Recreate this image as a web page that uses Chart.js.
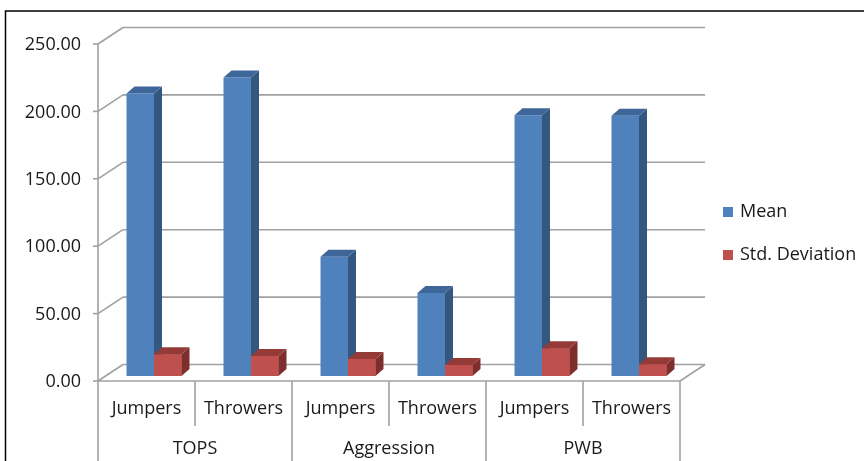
<!DOCTYPE html>
<html>
<head>
<meta charset="utf-8">
<script src="https://cdn.jsdelivr.net/npm/chart.js@4/dist/chart.umd.min.js"></script>
<style>
  html, body { margin: 0; padding: 0; background: #ffffff; }
  #wrap { position: relative; width: 864px; height: 461px; }
</style>
</head>
<body>
<div id="wrap"><canvas id="chart" width="864" height="461"></canvas></div>
<script>
// Scale groups and the athlete types inside each group
const groups = ['TOPS', 'Aggression', 'PWB'];
const athleteTypes = ['Jumpers', 'Throwers'];
const categories = ['Jumpers', 'Throwers', 'Jumpers', 'Throwers', 'Jumpers', 'Throwers'];

// Series values, one per category
const meanValues = [209.5, 221.5, 88.5, 61.5, 193.5, 193.0];
const stdValues  = [16.1, 14.8, 12.6, 8.2, 20.5, 8.7];

// Value axis ticks
const yTicks = [0, 50, 100, 150, 200, 250];

const seriesNames = ['Mean', 'Std. Deviation'];
const seriesColors = ['#4F81BD', '#C0504D'];
const sideColors   = ['#34577F', '#7E2F2D'];
const topColors    = ['#3E6698', '#943B38'];

const FONT = '"Open Sans", "Liberation Sans", sans-serif';
const FONT_SIZE = 18;
const GRID = '#A0A0A0';

// Oblique offsets between the bar plane and the front / back planes
const FRONT = { dx: -7.5, dy: 5 };
const BACK  = { dx: 17.5, dy: -11.5 };
const BAR_DEPTH = { dx: 8, dy: -7 };

function line(ctx, x1, y1, x2, y2) {
  ctx.beginPath();
  ctx.moveTo(x1, y1);
  ctx.lineTo(x2, y2);
  ctx.stroke();
}

function poly(ctx, pts, fill) {
  ctx.beginPath();
  ctx.moveTo(pts[0][0], pts[0][1]);
  for (let i = 1; i < pts.length; i++) ctx.lineTo(pts[i][0], pts[i][1]);
  ctx.closePath();
  ctx.fillStyle = fill;
  ctx.fill();
}

// Side and top faces of one bar, taken from the library's bar element
function drawBarDepth(ctx, bar, dsIndex) {
  const left = bar.x - bar.width / 2;
  const right = bar.x + bar.width / 2;
  const top = bar.y;
  const base = bar.base;
  const dx = BAR_DEPTH.dx, dy = BAR_DEPTH.dy;
  poly(ctx, [[right, top], [right + dx, top + dy], [right + dx, base + dy], [right, base]], sideColors[dsIndex]);
  poly(ctx, [[left, top], [left + dx, top + dy], [right + dx, top + dy], [right, top]], topColors[dsIndex]);
}

const frame3d = {
  id: 'frame3d',
  beforeDatasetsDraw(chart) {
    const ctx = chart.ctx;
    const ys = chart.scales.y;
    const xs = chart.scales.x;
    const area = chart.chartArea;
    const xFront = area.left + FRONT.dx;
    const xFrontRight = area.right + FRONT.dx;
    const xBack = area.left + BACK.dx;
    const xBackRight = area.right + BACK.dx;
    ctx.save();
    ctx.strokeStyle = GRID;
    ctx.lineWidth = 1.6;
    // walls: diagonal on the side wall, horizontal on the back wall
    yTicks.forEach(v => {
      const yb = ys.getPixelForValue(v);
      const yF = yb + FRONT.dy;
      const yB = yb + BACK.dy;
      line(ctx, xFront, yF, xBack, yB);
      line(ctx, xBack, yB, xBackRight, yB);
      line(ctx, xFront - 5, yF, xFront, yF);
    });
    // floor
    const y0 = ys.getPixelForValue(0);
    line(ctx, xFront, y0 + FRONT.dy, xFrontRight, y0 + FRONT.dy);
    line(ctx, xFrontRight, y0 + FRONT.dy, xBackRight, y0 + BACK.dy);
    // front value axis, continuing down as the category table border
    line(ctx, xFront, ys.getPixelForValue(250) + FRONT.dy, xFront, chart.height);
    // category table separators
    const step = (area.right - area.left) / categories.length;
    for (let i = 1; i <= categories.length; i++) {
      const x = area.left + i * step + FRONT.dx;
      const bottom = (i % 2 === 0) ? chart.height : 426;
      line(ctx, x, y0 + FRONT.dy, x, bottom);
    }
    ctx.restore();

    // value axis labels
    ctx.save();
    ctx.fillStyle = '#1a1a1a';
    ctx.font = FONT_SIZE + 'px ' + FONT;
    ctx.textAlign = 'right';
    ctx.textBaseline = 'middle';
    yTicks.forEach(v => {
      ctx.fillText(v.toFixed(2), 81, ys.getPixelForValue(v) + FRONT.dy + 1);
    });
    // category labels
    ctx.textAlign = 'center';
    categories.forEach((c, i) => {
      ctx.fillText(c, xs.getPixelForValue(i) + FRONT.dx, 409);
    });
    groups.forEach((g, gi) => {
      const xc = (xs.getPixelForValue(gi * 2) + xs.getPixelForValue(gi * 2 + 1)) / 2 + FRONT.dx;
      ctx.fillText(g, xc, 449);
    });
    // legend
    ctx.textAlign = 'left';
    seriesNames.forEach((name, i) => {
      const yc = 212 + i * 43;
      ctx.fillStyle = seriesColors[i];
      ctx.fillRect(723, yc - 5, 10, 10);
      ctx.fillStyle = '#1a1a1a';
      ctx.fillText(name, 740, yc);
    });
    ctx.restore();
  },
  afterDatasetsDraw(chart) {
    const ctx = chart.ctx;
    const meanMeta = chart.getDatasetMeta(0);
    const stdMeta = chart.getDatasetMeta(1);
    ctx.save();
    for (let i = 0; i < categories.length; i++) {
      const m = meanMeta.data[i];
      const s = stdMeta.data[i];
      drawBarDepth(ctx, m, 0);
      // the second bar sits in front of the first bar's side face
      ctx.fillStyle = seriesColors[1];
      ctx.fillRect(s.x - s.width / 2, s.y, s.width, s.base - s.y);
      drawBarDepth(ctx, s, 1);
    }
    ctx.restore();
  }
};

// Plot area = the plane the bars stand in
const plotLeft = 105.5, plotRight = 687.5, plotTop = 39, plotBottom = 376;

new Chart(document.getElementById('chart'), {
  type: 'bar',
  data: {
    labels: categories,
    datasets: [
      { label: seriesNames[0], data: meanValues, backgroundColor: seriesColors[0], borderWidth: 0 },
      { label: seriesNames[1], data: stdValues, backgroundColor: seriesColors[1], borderWidth: 0 }
    ]
  },
  options: {
    responsive: false,
    animation: false,
    devicePixelRatio: 1,
    layout: { padding: { left: plotLeft, right: 864 - plotRight, top: plotTop, bottom: 461 - plotBottom } },
    datasets: { bar: { barPercentage: 1, categoryPercentage: 0.567 } },
    plugins: { legend: { display: false }, tooltip: { enabled: false } },
    scales: {
      x: { display: false, offset: true },
      y: { display: false, min: 0, max: 250 }
    }
  },
  plugins: [frame3d]
});

// outer frame lines along the top and left edges
const c = document.getElementById('chart').getContext('2d');
c.save();
c.strokeStyle = '#000000';
c.lineWidth = 1.5;
c.beginPath();
c.moveTo(5.5, 461);
c.lineTo(5.5, 11);
c.lineTo(864, 11);
c.stroke();
c.restore();
</script>
</body>
</html>
